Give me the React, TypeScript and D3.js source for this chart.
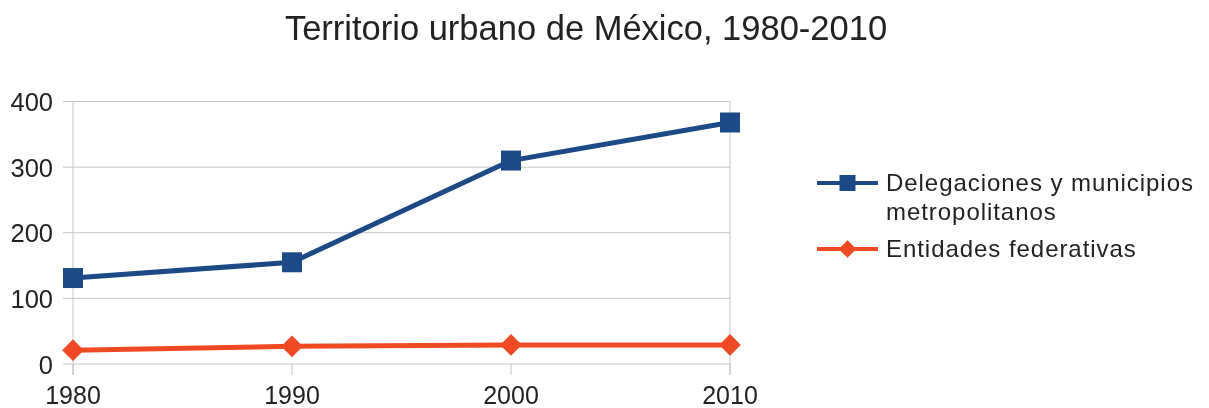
import { useEffect, useRef } from 'react';
import * as d3 from 'd3';

const years = [1980, 1990, 2000, 2010];
const delegaciones = [131, 155, 310, 368];
const entidades = [21, 27, 29, 29];
const yTicks = [0, 100, 200, 300, 400];
const seriesNames = ['Delegaciones y municipios|metropolitanos', 'Entidades federativas'];
const seriesColors = ['#1d4a87', '#ef4a24'];

const App = () => {
  const ref = useRef<SVGSVGElement>(null);

  useEffect(() => {
    const svg = d3.select(ref.current);
    svg.selectAll('*').remove();
    const font = 'Liberation Sans, Arial, sans-serif';

    const x = d3.scalePoint<number>().domain(years).range([73, 730]);
    const y = d3.scaleLinear().domain([0, 400]).range([364, 101.5]);

    // title
    svg.append('text')
      .attr('x', 586).attr('y', 39.5)
      .attr('text-anchor', 'middle')
      .attr('font-family', font).attr('font-size', 34.5)
      .attr('fill', '#222')
      .text('Territorio urbano de México, 1980-2010');

    // horizontal grid + y labels
    yTicks.forEach(t => {
      svg.append('line')
        .attr('x1', 63).attr('x2', 730)
        .attr('y1', y(t)).attr('y2', y(t))
        .attr('stroke', '#c6c6c6').attr('stroke-width', 1);
      svg.append('text')
        .attr('x', 53).attr('y', y(t) + 9.5)
        .attr('text-anchor', 'end')
        .attr('font-family', font).attr('font-size', 25.5)
        .attr('fill', '#222')
        .text(t);
    });

    // verticals: axis line, right border, tick stubs
    svg.append('line')
      .attr('x1', 73).attr('x2', 73).attr('y1', y(400)).attr('y2', 375)
      .attr('stroke', '#c6c6c6');
    svg.append('line')
      .attr('x1', 730).attr('x2', 730).attr('y1', y(400)).attr('y2', 375)
      .attr('stroke', '#c6c6c6');
    years.forEach(yr => {
      svg.append('line')
        .attr('x1', x(yr)!).attr('x2', x(yr)!).attr('y1', y(0)).attr('y2', 375)
        .attr('stroke', '#c6c6c6');
      svg.append('text')
        .attr('x', x(yr)!).attr('y', 404)
        .attr('text-anchor', 'middle')
        .attr('font-family', font).attr('font-size', 25)
        .attr('fill', '#222')
        .text(yr);
    });

    const line = d3.line<number>()
      .x((_, i) => x(years[i])!)
      .y(d => y(d));

    const diamond = d3.symbol().type(d3.symbolDiamond2).size(300);

    // blue series
    svg.append('path')
      .attr('d', line(delegaciones))
      .attr('fill', 'none')
      .attr('stroke', seriesColors[0]).attr('stroke-width', 5);
    svg.selectAll('rect.pt')
      .data(delegaciones)
      .join('rect')
      .attr('class', 'pt')
      .attr('x', (_, i) => x(years[i])! - 10)
      .attr('y', d => y(d) - 10)
      .attr('width', 20).attr('height', 20)
      .attr('fill', seriesColors[0]);

    // red series
    svg.append('path')
      .attr('d', line(entidades))
      .attr('fill', 'none')
      .attr('stroke', seriesColors[1]).attr('stroke-width', 5);
    svg.selectAll('path.dm')
      .data(entidades)
      .join('path')
      .attr('class', 'dm')
      .attr('d', diamond)
      .attr('transform', (d, i) => `translate(${x(years[i])},${y(d)})`)
      .attr('fill', seriesColors[1]);

    // legend
    const lg = svg.append('g');
    const lx = 817, lw = 61;
    const rows = [183, 249];
    rows.forEach((ry, k) => {
      lg.append('line')
        .attr('x1', lx).attr('x2', lx + lw).attr('y1', ry).attr('y2', ry)
        .attr('stroke', seriesColors[k]).attr('stroke-width', 4);
      if (k === 0) {
        lg.append('rect')
          .attr('x', lx + lw / 2 - 8).attr('y', ry - 8)
          .attr('width', 16).attr('height', 16)
          .attr('fill', seriesColors[0]);
      } else {
        lg.append('path')
          .attr('d', d3.symbol().type(d3.symbolDiamond2).size(200)())
          .attr('transform', `translate(${lx + lw / 2},${ry})`)
          .attr('fill', seriesColors[1]);
      }
      const parts = seriesNames[k].split('|');
      parts.forEach((p, j) => {
        lg.append('text')
          .attr('x', 886).attr('y', ry + 8 + j * 28.5)
          .attr('font-family', font).attr('font-size', 24)
          .attr('letter-spacing', 0.95)
          .attr('fill', '#222')
          .text(p);
      });
    });
  }, []);

  return (
    <svg
      ref={ref}
      width={1209}
      height={408}
      style={{ position: 'fixed', left: 0, top: 0, display: 'block' }}
    />
  );
};

export default App;
